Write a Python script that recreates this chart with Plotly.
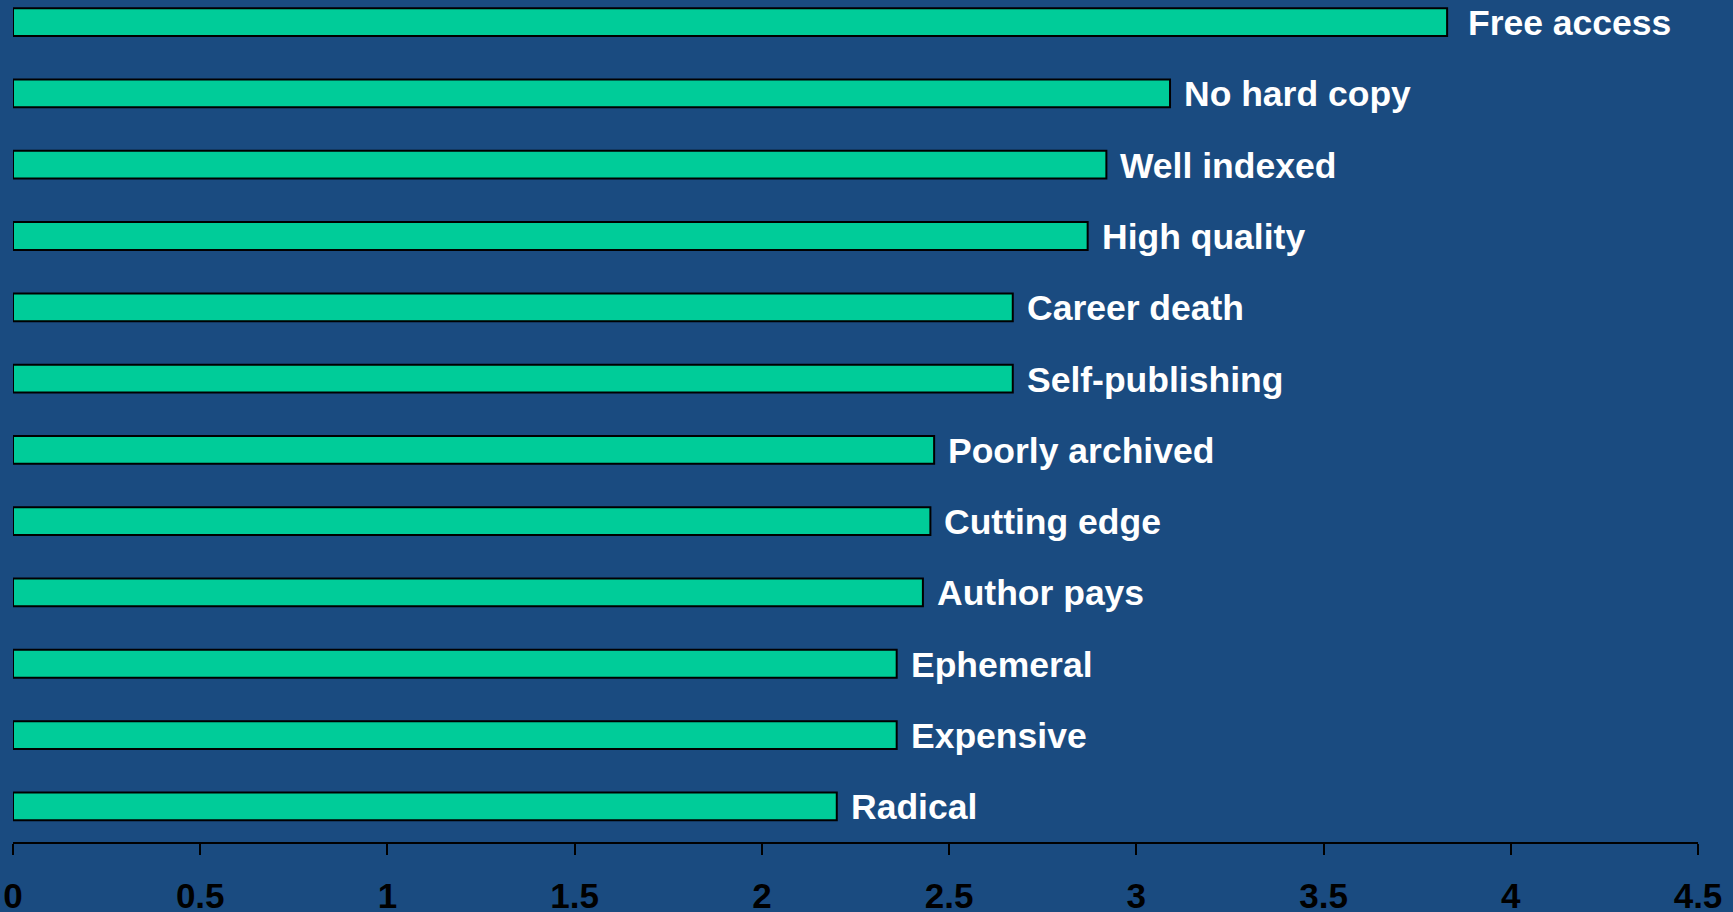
import plotly.graph_objects as go

categories = ["Radical", "Expensive", "Ephemeral", "Author pays", "Cutting edge",
              "Poorly archived", "Self-publishing", "Career death", "High quality",
              "Well indexed", "No hard copy", "Free access"]
values = [2.20, 2.36, 2.36, 2.43, 2.45, 2.46, 2.67, 2.67, 2.87, 2.92, 3.09, 3.83]
tick_vals = [0, 0.5, 1, 1.5, 2, 2.5, 3, 3.5, 4, 4.5]
tick_text = ["0", "0.5", "1", "1.5", "2", "2.5", "3", "3.5", "4", "4.5"]

BG = "#1a4b80"
BAR = "#00cc99"

fig = go.Figure(go.Bar(
    x=values, y=categories, orientation="h", width=0.39,
    marker=dict(color=BAR, line=dict(color="black", width=2)),
    hoverinfo="skip",
))

for c, v in zip(categories, values):
    fig.add_annotation(x=v, y=c, text=c, showarrow=False, xanchor="left",
                       xshift=19 if c == "Free access" else 12, yshift=-1,
                       font=dict(family="Liberation Sans, Arial", size=35.5, color="white", weight="bold"))

fig.update_layout(
    width=1733, height=912,
    paper_bgcolor=BG, plot_bgcolor=BG,
    margin=dict(l=13, r=35, t=0, b=70),
    showlegend=False,
    xaxis=dict(range=[0, 4.5], tickvals=tick_vals, ticktext=tick_text, automargin=False,
               showgrid=False, zeroline=False, showline=True, linecolor="black", linewidth=2,
               ticks="outside", ticklen=11, tickwidth=2, tickcolor="black",
               ticklabelstandoff=11,
               tickfont=dict(family="Liberation Sans, Arial", size=35, color="black", weight="bold")),
    yaxis=dict(type="category", range=[-0.5, 11.31], showticklabels=False, automargin=False,
               showgrid=False, zeroline=False, showline=False, ticks=""),
)

fig.write_html("out.html", config={"displayModeBar": False},
               post_script="document.body.style.margin='0';document.body.style.background='%s';" % BG)
